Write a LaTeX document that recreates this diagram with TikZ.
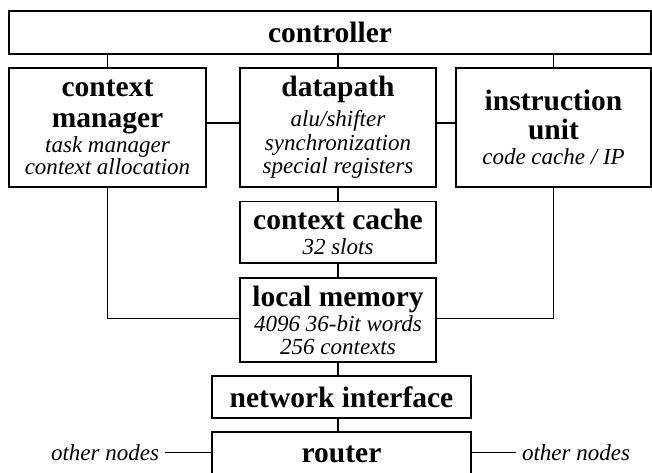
\documentclass[tikz,border=0pt]{standalone}
\usepackage{fontspec}
\setmainfont{Liberation Serif}
\newcommand\bt[1]{{\upshape\bfseries\fontsize{29.5}{31}\selectfont #1}}
\newcommand\itfont{\fontsize{23}{23}\selectfont\itshape\lineskiplimit=-50pt\relax}
\tikzset{
  box/.style={draw, line width=1.2pt, inner sep=0pt, align=center, font=\itfont},
  link/.style={line width=1.2pt},
  side/.style={inner sep=6pt, font=\fontsize{23}{22}\selectfont\itshape}
}
\begin{document}
\begin{tikzpicture}[x=1pt,y=-1pt]
\path[use as bounding box, clip] (0,0) rectangle (652,472);
\fill[white] (0,0) rectangle (652,472);
\node[box, minimum width=642pt, minimum height=43pt] (ctrl) at (330,32.5) {\bt{controller}};
\node[box, minimum width=197pt, minimum height=119pt] (cm) at (107.5,127.5)
  {\bt{context}\\[8pt]\bt{manager}\\[2pt]task manager\\[-0.5pt]context allocation};
\node[box, minimum width=196pt, minimum height=119pt] (dp) at (338,127.5)
  {\bt{datapath}\\[7pt]alu/shifter\\[0.5pt]synchronization\\[0.5pt]special registers};
\node[box, minimum width=195pt, minimum height=119pt] (iu) at (553.5,127.5)
  {\bt{instruction}\\[6pt]\bt{unit}\\[2pt]code cache / IP};
\node[box, minimum width=196pt, minimum height=61.5pt] (cc) at (338,232.25)
  {\bt{context cache}\\[2pt]32 slots};
\node[box, minimum width=196pt, minimum height=84pt] (lm) at (338,320)
  {\bt{local memory}\\[2pt]4096 36-bit words\\256 contexts};
\node[box, minimum width=259pt, minimum height=42pt] (ni) at (341.5,397)
  {\bt{network interface}};
\node[box, minimum width=259pt, minimum height=44pt] (rt) at (341.5,454)
  {\bt{router}};
\node[side] (onl) at (105,452.7) {other nodes};
\node[side] (onr) at (576,452.7) {other nodes};
\draw[link] (cm.north) -- (cm.north |- ctrl.south);
\draw[link] (dp.north) -- (dp.north |- ctrl.south);
\draw[link] (iu.north) -- (iu.north |- ctrl.south);
\draw[link] ([yshift=4.5pt]cm.east) -- ([yshift=4.5pt]dp.west);
\draw[link] ([yshift=4.5pt]dp.east) -- ([yshift=4.5pt]iu.west);
\draw[link] (dp.south) -- (cc.north);
\draw[link] (cc.south) -- (lm.north);
\draw[link] (lm.south) -- (lm.south |- ni.north);
\draw[link] (lm.south |- ni.south) -- (lm.south |- rt.north);
\draw[link] (cm.south) |- ([yshift=1.7pt]lm.west);
\draw[link] (iu.south) |- ([yshift=1.7pt]lm.east);
\draw[link] (onl.east) -- (onl.east -| rt.west);
\draw[link] (onr.west) -- (onr.west -| rt.east);
\end{tikzpicture}
\end{document}
